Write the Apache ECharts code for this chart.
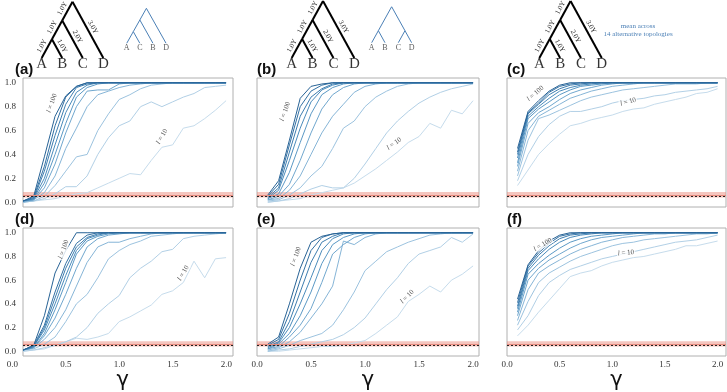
<!DOCTYPE html>
<html>
<head>
<meta charset="utf-8">
<script src="https://cdn.jsdelivr.net/npm/echarts@6/dist/echarts.min.js"></script>
<style>
  html, body { margin: 0; padding: 0; background: #fff; }
  #chart { width: 727px; height: 392px; }
</style>
</head>
<body>
<div id="chart"></div>
<script>
// gamma values on the x axis (shared by every curve)
const gammaValues = [0.1, 0.2, 0.3, 0.4, 0.5, 0.6, 0.7, 0.8, 0.9, 1.0,
  1.1, 1.2, 1.3, 1.4, 1.5, 1.6, 1.7, 1.8, 1.9, 2.0];
// one curve per locus length l = 10 ... 100
const lengthNames = ["l = 10", "l = 20", "l = 30", "l = 40", "l = 50",
  "l = 60", "l = 70", "l = 80", "l = 90", "l = 100"];
const lineColors = ["#c6dcec", "#b2d0e6", "#9cc3df", "#86b5d7", "#70a7ce",
  "#5b99c5", "#4a8bbb", "#3d7daf", "#3270a3", "#286396"];

const yTickValues = [0, 0.2, 0.4, 0.6, 0.8, 1.0];
const xTickValues = [0, 0.5, 1.0, 1.5, 2.0];

// false-positive band and nominal rate
const bandLow = 0.04;
const bandHigh = 0.085;
const bandMid = 0.062;
const nominalRate = 0.05;

const panelA = [
  [0.00, 0.01, 0.02, 0.03, 0.05, 0.07, 0.08, 0.12, 0.16, 0.20, 0.24, 0.23, 0.35, 0.46, 0.48, 0.62, 0.64, 0.70, 0.77, 0.85],
  [0.00, 0.01, 0.03, 0.07, 0.13, 0.13, 0.22, 0.40, 0.54, 0.64, 0.68, 0.80, 0.84, 0.80, 0.84, 0.88, 0.91, 0.96, 0.97, 0.98],
  [0.00, 0.01, 0.05, 0.14, 0.26, 0.38, 0.40, 0.60, 0.74, 0.86, 0.90, 0.95, 0.98, 0.99, 1.00, 1.00, 1.00, 1.00, 1.00, 1.00],
  [0.00, 0.02, 0.08, 0.22, 0.45, 0.62, 0.80, 0.90, 0.93, 0.96, 0.98, 0.99, 1.00, 1.00, 1.00, 1.00, 1.00, 1.00, 1.00, 1.00],
  [0.01, 0.02, 0.12, 0.32, 0.58, 0.80, 0.93, 0.94, 0.94, 0.99, 1.00, 1.00, 1.00, 1.00, 1.00, 1.00, 1.00, 1.00, 1.00, 1.00],
  [0.01, 0.02, 0.16, 0.40, 0.66, 0.88, 0.96, 0.99, 1.00, 1.00, 1.00, 1.00, 1.00, 1.00, 1.00, 1.00, 1.00, 1.00, 1.00, 1.00],
  [0.01, 0.03, 0.20, 0.48, 0.75, 0.92, 0.98, 1.00, 1.00, 1.00, 1.00, 1.00, 1.00, 1.00, 1.00, 1.00, 1.00, 1.00, 1.00, 1.00],
  [0.01, 0.03, 0.26, 0.56, 0.82, 0.96, 0.99, 1.00, 1.00, 1.00, 1.00, 1.00, 1.00, 1.00, 1.00, 1.00, 1.00, 1.00, 1.00, 1.00],
  [0.01, 0.04, 0.30, 0.64, 0.88, 0.97, 1.00, 1.00, 1.00, 1.00, 1.00, 1.00, 1.00, 1.00, 1.00, 1.00, 1.00, 1.00, 1.00, 1.00],
  [0.01, 0.05, 0.38, 0.72, 0.89, 0.97, 1.00, 1.00, 1.00, 1.00, 1.00, 1.00, 1.00, 1.00, 1.00, 1.00, 1.00, 1.00, 1.00, 1.00],
];
const panelB = [
  [0.00, 0.01, 0.02, 0.03, 0.06, 0.08, 0.10, 0.12, 0.16, 0.22, 0.28, 0.35, 0.42, 0.50, 0.55, 0.66, 0.62, 0.77, 0.74, 0.85],
  [0.00, 0.01, 0.03, 0.07, 0.11, 0.14, 0.12, 0.12, 0.20, 0.32, 0.45, 0.58, 0.68, 0.76, 0.83, 0.88, 0.92, 0.95, 0.97, 0.99],
  [0.01, 0.02, 0.06, 0.12, 0.22, 0.30, 0.45, 0.62, 0.68, 0.80, 0.88, 0.93, 0.97, 0.99, 1.00, 1.00, 1.00, 1.00, 1.00, 1.00],
  [0.02, 0.03, 0.10, 0.22, 0.40, 0.58, 0.72, 0.82, 0.92, 0.97, 0.99, 1.00, 1.00, 1.00, 1.00, 1.00, 1.00, 1.00, 1.00, 1.00],
  [0.02, 0.05, 0.15, 0.35, 0.58, 0.78, 0.90, 0.96, 0.99, 1.00, 1.00, 1.00, 1.00, 1.00, 1.00, 1.00, 1.00, 1.00, 1.00, 1.00],
  [0.03, 0.07, 0.25, 0.50, 0.74, 0.90, 0.96, 0.99, 1.00, 1.00, 1.00, 1.00, 1.00, 1.00, 1.00, 1.00, 1.00, 1.00, 1.00, 1.00],
  [0.03, 0.10, 0.35, 0.62, 0.84, 0.94, 0.98, 1.00, 1.00, 1.00, 1.00, 1.00, 1.00, 1.00, 1.00, 1.00, 1.00, 1.00, 1.00, 1.00],
  [0.04, 0.12, 0.42, 0.72, 0.88, 0.95, 0.99, 1.00, 1.00, 1.00, 1.00, 1.00, 1.00, 1.00, 1.00, 1.00, 1.00, 1.00, 1.00, 1.00],
  [0.05, 0.15, 0.48, 0.80, 0.93, 0.98, 1.00, 1.00, 1.00, 1.00, 1.00, 1.00, 1.00, 1.00, 1.00, 1.00, 1.00, 1.00, 1.00, 1.00],
  [0.06, 0.18, 0.52, 0.87, 0.97, 0.99, 1.00, 1.00, 1.00, 1.00, 1.00, 1.00, 1.00, 1.00, 1.00, 1.00, 1.00, 1.00, 1.00, 1.00],
];
const panelC = [
  [0.14, 0.27, 0.40, 0.49, 0.57, 0.64, 0.66, 0.69, 0.71, 0.73, 0.76, 0.78, 0.79, 0.82, 0.84, 0.86, 0.88, 0.91, 0.92, 0.95],
  [0.18, 0.40, 0.55, 0.65, 0.72, 0.76, 0.76, 0.78, 0.80, 0.83, 0.85, 0.86, 0.87, 0.89, 0.90, 0.92, 0.93, 0.94, 0.95, 0.97],
  [0.22, 0.52, 0.70, 0.73, 0.77, 0.81, 0.85, 0.88, 0.90, 0.92, 0.94, 0.95, 0.96, 0.97, 0.98, 0.99, 0.99, 0.99, 1.00, 1.00],
  [0.26, 0.60, 0.72, 0.77, 0.82, 0.87, 0.90, 0.93, 0.95, 0.97, 0.98, 0.99, 1.00, 1.00, 1.00, 1.00, 1.00, 1.00, 1.00, 1.00],
  [0.30, 0.66, 0.75, 0.80, 0.86, 0.91, 0.94, 0.96, 0.98, 0.99, 1.00, 1.00, 1.00, 1.00, 1.00, 1.00, 1.00, 1.00, 1.00, 1.00],
  [0.33, 0.70, 0.78, 0.84, 0.90, 0.94, 0.97, 0.98, 0.99, 1.00, 1.00, 1.00, 1.00, 1.00, 1.00, 1.00, 1.00, 1.00, 1.00, 1.00],
  [0.37, 0.72, 0.80, 0.87, 0.93, 0.96, 0.98, 0.99, 1.00, 1.00, 1.00, 1.00, 1.00, 1.00, 1.00, 1.00, 1.00, 1.00, 1.00, 1.00],
  [0.40, 0.74, 0.82, 0.90, 0.95, 0.98, 0.99, 1.00, 1.00, 1.00, 1.00, 1.00, 1.00, 1.00, 1.00, 1.00, 1.00, 1.00, 1.00, 1.00],
  [0.42, 0.75, 0.83, 0.92, 0.97, 0.99, 1.00, 1.00, 1.00, 1.00, 1.00, 1.00, 1.00, 1.00, 1.00, 1.00, 1.00, 1.00, 1.00, 1.00],
  [0.45, 0.76, 0.85, 0.93, 0.98, 1.00, 1.00, 1.00, 1.00, 1.00, 1.00, 1.00, 1.00, 1.00, 1.00, 1.00, 1.00, 1.00, 1.00, 1.00],
];
const panelD = [
  [0.00, 0.01, 0.02, 0.05, 0.08, 0.11, 0.10, 0.12, 0.15, 0.25, 0.29, 0.34, 0.39, 0.48, 0.51, 0.58, 0.76, 0.62, 0.78, 0.79],
  [0.00, 0.01, 0.03, 0.05, 0.08, 0.12, 0.20, 0.32, 0.40, 0.47, 0.62, 0.70, 0.76, 0.84, 0.86, 0.95, 0.97, 0.98, 0.99, 1.00],
  [0.01, 0.02, 0.06, 0.12, 0.25, 0.40, 0.48, 0.62, 0.78, 0.85, 0.90, 0.93, 0.97, 0.98, 0.99, 1.00, 1.00, 1.00, 1.00, 1.00],
  [0.01, 0.03, 0.10, 0.20, 0.35, 0.55, 0.75, 0.88, 0.92, 0.92, 0.95, 0.97, 0.99, 1.00, 1.00, 1.00, 1.00, 1.00, 1.00, 1.00],
  [0.01, 0.03, 0.13, 0.28, 0.48, 0.70, 0.88, 0.95, 0.98, 0.99, 1.00, 1.00, 1.00, 1.00, 1.00, 1.00, 1.00, 1.00, 1.00, 1.00],
  [0.01, 0.03, 0.15, 0.35, 0.58, 0.82, 0.93, 0.97, 0.99, 1.00, 1.00, 1.00, 1.00, 1.00, 1.00, 1.00, 1.00, 1.00, 1.00, 1.00],
  [0.01, 0.04, 0.18, 0.40, 0.64, 0.85, 0.95, 0.98, 1.00, 1.00, 1.00, 1.00, 1.00, 1.00, 1.00, 1.00, 1.00, 1.00, 1.00, 1.00],
  [0.01, 0.04, 0.20, 0.45, 0.70, 0.88, 0.96, 0.99, 1.00, 1.00, 1.00, 1.00, 1.00, 1.00, 1.00, 1.00, 1.00, 1.00, 1.00, 1.00],
  [0.01, 0.05, 0.22, 0.50, 0.74, 0.91, 0.98, 1.00, 1.00, 1.00, 1.00, 1.00, 1.00, 1.00, 1.00, 1.00, 1.00, 1.00, 1.00, 1.00],
  [0.01, 0.05, 0.30, 0.66, 0.85, 1.00, 1.00, 1.00, 1.00, 1.00, 1.00, 1.00, 1.00, 1.00, 1.00, 1.00, 1.00, 1.00, 1.00, 1.00],
];
const panelE = [
  [0.00, 0.00, 0.01, 0.02, 0.03, 0.04, 0.04, 0.05, 0.07, 0.09, 0.15, 0.22, 0.29, 0.42, 0.48, 0.55, 0.50, 0.60, 0.65, 0.72],
  [0.00, 0.01, 0.02, 0.04, 0.06, 0.08, 0.10, 0.14, 0.20, 0.28, 0.40, 0.52, 0.62, 0.74, 0.82, 0.85, 0.88, 0.96, 0.92, 0.99],
  [0.00, 0.02, 0.05, 0.09, 0.12, 0.15, 0.22, 0.35, 0.50, 0.68, 0.76, 0.84, 0.88, 0.92, 0.95, 0.98, 0.99, 1.00, 1.00, 1.00],
  [0.01, 0.03, 0.08, 0.16, 0.28, 0.40, 0.55, 0.93, 0.90, 0.96, 0.99, 1.00, 1.00, 1.00, 1.00, 1.00, 1.00, 1.00, 1.00, 1.00],
  [0.02, 0.04, 0.12, 0.22, 0.36, 0.58, 0.82, 0.90, 0.96, 0.99, 1.00, 1.00, 1.00, 1.00, 1.00, 1.00, 1.00, 1.00, 1.00, 1.00],
  [0.02, 0.06, 0.15, 0.30, 0.50, 0.74, 0.90, 0.96, 0.99, 1.00, 1.00, 1.00, 1.00, 1.00, 1.00, 1.00, 1.00, 1.00, 1.00, 1.00],
  [0.03, 0.07, 0.20, 0.40, 0.62, 0.85, 0.95, 0.99, 1.00, 1.00, 1.00, 1.00, 1.00, 1.00, 1.00, 1.00, 1.00, 1.00, 1.00, 1.00],
  [0.04, 0.08, 0.25, 0.50, 0.75, 0.92, 0.97, 1.00, 1.00, 1.00, 1.00, 1.00, 1.00, 1.00, 1.00, 1.00, 1.00, 1.00, 1.00, 1.00],
  [0.05, 0.10, 0.32, 0.60, 0.85, 0.96, 0.99, 1.00, 1.00, 1.00, 1.00, 1.00, 1.00, 1.00, 1.00, 1.00, 1.00, 1.00, 1.00, 1.00],
  [0.06, 0.12, 0.40, 0.70, 0.92, 0.97, 0.99, 1.00, 1.00, 1.00, 1.00, 1.00, 1.00, 1.00, 1.00, 1.00, 1.00, 1.00, 1.00, 1.00],
];
const panelF = [
  [0.13, 0.22, 0.33, 0.43, 0.53, 0.63, 0.66, 0.68, 0.72, 0.75, 0.77, 0.79, 0.80, 0.82, 0.84, 0.86, 0.89, 0.89, 0.91, 0.93],
  [0.18, 0.30, 0.47, 0.58, 0.64, 0.69, 0.72, 0.75, 0.78, 0.80, 0.82, 0.84, 0.86, 0.88, 0.90, 0.92, 0.93, 0.94, 0.96, 0.98],
  [0.22, 0.42, 0.58, 0.66, 0.71, 0.76, 0.80, 0.83, 0.86, 0.89, 0.91, 0.92, 0.94, 0.95, 0.96, 0.97, 0.98, 0.99, 0.99, 1.00],
  [0.26, 0.52, 0.66, 0.72, 0.77, 0.82, 0.86, 0.89, 0.92, 0.94, 0.96, 0.97, 0.98, 0.99, 0.99, 1.00, 1.00, 1.00, 1.00, 1.00],
  [0.30, 0.60, 0.70, 0.77, 0.82, 0.87, 0.91, 0.94, 0.96, 0.97, 0.98, 0.99, 1.00, 1.00, 1.00, 1.00, 1.00, 1.00, 1.00, 1.00],
  [0.33, 0.65, 0.74, 0.81, 0.87, 0.92, 0.95, 0.97, 0.98, 0.99, 1.00, 1.00, 1.00, 1.00, 1.00, 1.00, 1.00, 1.00, 1.00, 1.00],
  [0.36, 0.68, 0.78, 0.86, 0.92, 0.96, 0.98, 0.99, 1.00, 1.00, 1.00, 1.00, 1.00, 1.00, 1.00, 1.00, 1.00, 1.00, 1.00, 1.00],
  [0.38, 0.70, 0.81, 0.89, 0.95, 0.98, 0.99, 1.00, 1.00, 1.00, 1.00, 1.00, 1.00, 1.00, 1.00, 1.00, 1.00, 1.00, 1.00, 1.00],
  [0.41, 0.72, 0.83, 0.91, 0.97, 0.99, 1.00, 1.00, 1.00, 1.00, 1.00, 1.00, 1.00, 1.00, 1.00, 1.00, 1.00, 1.00, 1.00, 1.00],
  [0.44, 0.73, 0.85, 0.93, 0.98, 1.00, 1.00, 1.00, 1.00, 1.00, 1.00, 1.00, 1.00, 1.00, 1.00, 1.00, 1.00, 1.00, 1.00, 1.00],
];

// trees drawn above the panels: leaves sit at height 0, x = 0..3
const caterpillarEdges = [
  [[0, 0], [0.5, 1], "1.0Y"],
  [[0.5, 1], [1, 0], "1.0Y"],
  [[0.5, 1], [1, 2], "1.0Y"],
  [[1, 2], [2, 0], "2.0Y"],
  [[1, 2], [1.5, 3], "1.0Y"],
  [[1.5, 3], [3, 0], "3.0Y"],
];
const balancedEdges = [
  [[0, 0], [0.5, 1], ""],
  [[0.5, 1], [1, 0], ""],
  [[0.5, 1], [1.5, 3], ""],
  [[1.5, 3], [2.5, 1], ""],
  [[2.5, 1], [3, 0], ""],
  [[2.5, 1], [2, 0], ""],
];
const mainLeaves = ["A", "B", "C", "D"];
const altLeavesA = ["A", "C", "B", "D"];
const altLeavesB = ["A", "B", "C", "D"];

const SERIF = "Liberation Serif";
const TREE_BLUE = "#4a7fb5";

const panels = [
  { tag: "(a)", data: panelA, box: { left: 23, top: 78, width: 210, height: 129 }, xMin: 0.1, xMax: 2.065,
    yLabels: true, xLabels: false,
    notes: [{ x: 0.37, y: 0.83, rot: 70, n: "100" }, { x: 1.40, y: 0.55, rot: 60, n: "10" }] },
  { tag: "(b)", data: panelB, box: { left: 257, top: 78, width: 222, height: 129 }, xMin: 0, xMax: 2.055,
    yLabels: false, xLabels: false,
    notes: [{ x: 0.26, y: 0.76, rot: 70, n: "100" }, { x: 1.27, y: 0.49, rot: 35, n: "10" }] },
  { tag: "(c)", data: panelC, box: { left: 507, top: 78, width: 219, height: 129 }, xMin: 0, xMax: 2.08,
    yLabels: false, xLabels: false,
    notes: [{ x: 0.27, y: 0.91, rot: 40, n: "100" }, { x: 1.15, y: 0.84, rot: 15, n: "10" }] },
  { tag: "(d)", data: panelD, box: { left: 23, top: 228, width: 210, height: 128 }, xMin: 0.1, xMax: 2.065,
    yLabels: true, xLabels: false,
    notes: [{ x: 0.48, y: 0.86, rot: 70, n: "100" }, { x: 1.60, y: 0.66, rot: 60, n: "10" }] },
  { tag: "(e)", data: panelE, box: { left: 257, top: 228, width: 222, height: 128 }, xMin: 0, xMax: 2.055,
    yLabels: false, xLabels: true,
    notes: [{ x: 0.36, y: 0.80, rot: 70, n: "100" }, { x: 1.39, y: 0.46, rot: 45, n: "10" }] },
  { tag: "(f)", data: panelF, box: { left: 507, top: 228, width: 219, height: 128 }, xMin: 0, xMax: 2.08,
    yLabels: false, xLabels: true,
    notes: [{ x: 0.34, y: 0.90, rot: 30, n: "100" }, { x: 1.13, y: 0.83, rot: 5, n: "10" }] },
];

const chart = echarts.init(document.getElementById("chart"), null, { renderer: "canvas" });

const grid = [];
const xAxis = [];
const yAxis = [];
const series = [];
const title = [];

function gammaAxis(min, max, withLabels) {
  return {
    type: "value", min, max,
    axisLine: { show: false }, axisTick: { show: false }, splitLine: { show: false },
    axisLabel: withLabels
      ? { show: true, customValues: xTickValues, formatter: (v) => v.toFixed(1),
          margin: 4, fontFamily: SERIF, fontSize: 9, color: "#333" }
      : { show: false },
    name: withLabels ? "γ" : "",
    nameLocation: "middle", nameGap: 10,
    nameTextStyle: { fontFamily: "DejaVu Sans", fontSize: 21, color: "#111", verticalAlign: "top" },
  };
}

panels.forEach((p, pi) => {
  grid.push({ ...p.box, show: true, borderColor: "#b0b0b0", borderWidth: 1, backgroundColor: "#fff" });
  xAxis.push({ gridIndex: pi, ...gammaAxis(p.xMin, p.xMax, p.xLabels) });
  yAxis.push({
    gridIndex: pi, type: "value", min: -0.04, max: 1.04,
    axisLine: { show: false }, axisTick: { show: false }, splitLine: { show: false },
    axisLabel: p.yLabels
      ? { show: true, customValues: yTickValues, formatter: (v) => v.toFixed(1),
          margin: 7, fontFamily: SERIF, fontSize: 9, color: "#333" }
      : { show: false },
  });

  p.data.forEach((vals, k) => {
    const s = {
      type: "line", name: lengthNames[k], xAxisIndex: pi, yAxisIndex: pi,
      data: gammaValues.map((g, i) => [g, vals[i]]),
      symbol: "none", silent: true, z: 3,
      lineStyle: { color: lineColors[k], width: 1 },
    };
    if (k === 0) {
      s.markArea = {
        silent: true,
        itemStyle: { color: "rgba(236,140,125,0.5)" },
        data: [[{ yAxis: bandLow }, { yAxis: bandHigh }]],
      };
      s.markLine = {
        silent: true, symbol: "none", label: { show: false },
        data: [
          { yAxis: bandMid, lineStyle: { color: "#e48a7e", width: 1.2, type: "solid" } },
          { yAxis: nominalRate, lineStyle: { color: "#222", width: 1, type: [2, 2] } },
        ],
      };
    }
    series.push(s);
  });

  series.push({
    type: "scatter", xAxisIndex: pi, yAxisIndex: pi, silent: true, z: 6,
    symbolSize: 1, itemStyle: { color: "rgba(0,0,0,0)" },
    data: p.notes.map((n) => ({
      value: [n.x, n.y], name: n.n,
      label: { rotate: n.rot },
    })),
    label: {
      show: true, position: "inside",
      formatter: (d) => "{i|l} = " + d.name,
      fontFamily: SERIF, fontSize: 7, color: "#222",
      backgroundColor: "#fff", padding: [0, 1],
      rich: { i: { fontFamily: SERIF, fontSize: 7, fontStyle: "italic", color: "#222" } },
    },
  });

  title.push({
    text: p.tag, left: p.box.left - (p.yLabels ? 8 : 0), top: p.box.top - 16, padding: 0,
    textStyle: { fontFamily: "Liberation Sans", fontWeight: "bold", fontSize: 15, color: "#111" },
  });
});

// extra axis carrying the gamma labels of panel (d), whose frame starts at 0.1
const dLabelGrid = grid.length;
grid.push({ left: 12.3, top: 228, width: 221, height: 128, show: false });
xAxis.push({ gridIndex: dLabelGrid, ...gammaAxis(0, 2.065, true) });
yAxis.push({ gridIndex: dLabelGrid, type: "value", min: 0, max: 1, show: false });

// trees
const trees = [
  { box: { left: 35.5, top: 1.7, width: 74, height: 56.3 }, edges: caterpillarEdges, leaves: mainLeaves, main: true },
  { box: { left: 285.4, top: 1, width: 75.2, height: 57 }, edges: caterpillarEdges, leaves: mainLeaves, main: true },
  { box: { left: 533.1, top: 1, width: 74.9, height: 57 }, edges: caterpillarEdges, leaves: mainLeaves, main: true },
  { box: { left: 122.8, top: 8.3, width: 47.2, height: 35 }, edges: caterpillarEdges, leaves: altLeavesA, main: false },
  { box: { left: 367.7, top: 6.7, width: 47.9, height: 36 }, edges: balancedEdges, leaves: altLeavesB, main: false },
];

trees.forEach((t) => {
  const gi = grid.length;
  grid.push({ ...t.box, show: false });
  xAxis.push({ gridIndex: gi, type: "value", min: -0.3, max: 3.3, show: false });
  yAxis.push({ gridIndex: gi, type: "value", min: 0, max: 3, show: false });
  series.push({
    type: "lines", coordinateSystem: "cartesian2d", xAxisIndex: gi, yAxisIndex: gi,
    silent: true, z: 4,
    lineStyle: { color: t.main ? "#000" : TREE_BLUE, width: t.main ? 2 : 1, opacity: 1, curveness: 0 },
    label: {
      show: t.main, position: "middle", formatter: (d) => d.name,
      fontFamily: SERIF, fontSize: 7, color: "#222", distance: 2,
    },
    data: t.edges.map((e) => ({ coords: [e[0], e[1]], name: e[2] })),
  });
  series.push({
    type: "scatter", xAxisIndex: gi, yAxisIndex: gi, silent: true, z: 5,
    symbolSize: 1, itemStyle: { color: "rgba(0,0,0,0)" },
    data: t.leaves.map((name, i) => ({ value: [i, 0], name })),
    label: {
      show: true, position: "inside", offset: [0, t.main ? 6 : 5],
      formatter: (d) => d.name,
      fontFamily: SERIF, fontSize: t.main ? 15 : 8, color: t.main ? "#000" : "#333",
    },
  });
});

chart.setOption({
  animation: false,
  backgroundColor: "#fff",
  title,
  grid,
  xAxis,
  yAxis,
  series,
  graphic: [
    {
      type: "text", x: 638, y: 30, silent: true,
      style: {
        text: "mean across\n14 alternative topologies",
        font: "7px 'Liberation Serif'", fill: TREE_BLUE,
        align: "center", verticalAlign: "middle", lineHeight: 8,
      },
    },
  ],
});
</script>
</body>
</html>
